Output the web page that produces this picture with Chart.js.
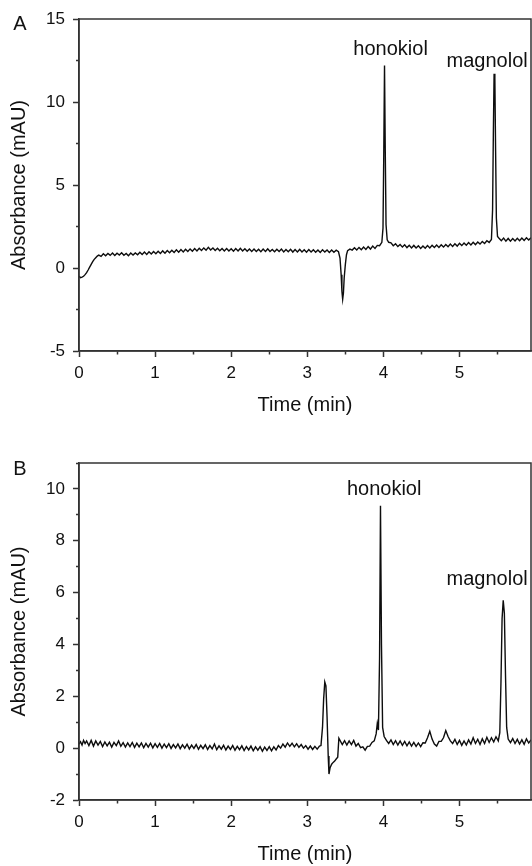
<!DOCTYPE html>
<html lang="en">
<head>
<meta charset="UTF-8">
<title>Chromatograms A / B</title>
<script src="https://cdn.jsdelivr.net/npm/chart.js@4.4.0/dist/chart.umd.min.js"></script>
<style>
  body { margin: 0; background: #fff; }
  canvas { display: block; }
</style>
</head>
<body>
<canvas id="chartA" width="532" height="417"></canvas>
<canvas id="chartB" width="532" height="449"></canvas>
<script>
// ---- panel A trace (time in min, absorbance in mAU) ----
const timeA = [0.00,0.02,0.04,0.06,0.08,0.10,0.12,0.14,0.16,0.18,0.20,0.22,0.24,0.26,0.29,0.32,0.35,0.38,0.41,0.44,
  0.47,0.50,0.53,0.56,0.59,0.62,0.65,0.68,0.71,0.74,0.77,0.80,0.83,0.86,0.89,0.92,0.95,0.98,1.01,1.04,
  1.07,1.10,1.13,1.16,1.19,1.22,1.25,1.28,1.31,1.34,1.37,1.40,1.43,1.46,1.49,1.52,1.55,1.58,1.61,1.64,
  1.67,1.70,1.73,1.76,1.79,1.82,1.85,1.88,1.91,1.94,1.97,2.00,2.03,2.06,2.09,2.12,2.15,2.18,2.21,2.24,
  2.27,2.30,2.33,2.36,2.39,2.42,2.45,2.48,2.51,2.54,2.57,2.60,2.63,2.66,2.69,2.72,2.75,2.78,2.81,2.84,
  2.87,2.90,2.93,2.96,2.99,3.02,3.05,3.08,3.11,3.14,3.17,3.20,3.23,3.26,3.29,3.32,3.35,3.38,3.41,3.43,
  3.445,3.455,3.465,3.475,3.485,3.50,3.515,3.53,3.56,3.59,3.62,3.65,3.68,3.71,3.74,3.77,3.80,3.83,3.86,3.89,
  3.92,3.95,3.98,3.995,4.005,4.015,4.025,4.035,4.05,4.07,4.10,4.13,4.16,4.19,4.22,4.25,4.28,4.31,4.34,4.37,
  4.40,4.43,4.46,4.49,4.52,4.55,4.58,4.61,4.64,4.67,4.70,4.73,4.76,4.79,4.82,4.85,4.88,4.91,4.94,4.97,
  5.00,5.03,5.06,5.09,5.12,5.15,5.18,5.21,5.24,5.27,5.30,5.33,5.36,5.39,5.42,5.435,5.445,5.455,5.465,5.475,
  5.485,5.50,5.52,5.55,5.58,5.61,5.64,5.67,5.70,5.73,5.76,5.79,5.82,5.85,5.88,5.91,5.94];
const absA = [-0.50,-0.58,-0.55,-0.50,-0.40,-0.28,-0.12,0.05,0.22,0.38,0.52,0.62,0.72,0.78,0.70,0.86,0.74,0.88,0.76,0.90,
  0.75,0.89,0.78,0.92,0.77,0.88,0.74,0.90,0.78,0.91,0.80,0.95,0.81,0.96,0.82,0.98,0.84,0.99,0.86,1.01,
  0.87,1.03,0.89,1.05,0.92,1.07,0.93,1.10,0.95,1.11,0.97,1.13,0.99,1.15,1.01,1.17,1.03,1.19,1.05,1.21,
  1.07,1.25,1.09,1.21,1.06,1.19,1.04,1.18,1.03,1.17,1.02,1.16,1.01,1.17,1.03,1.18,1.02,1.16,1.01,1.15,
  1.00,1.14,0.99,1.13,0.98,1.14,1.00,1.15,0.99,1.12,0.98,1.13,0.99,1.14,0.97,1.12,0.98,1.13,0.96,1.11,
  0.97,1.12,0.96,1.10,0.95,1.11,0.96,1.10,0.95,1.09,0.94,1.10,0.96,1.09,0.94,1.08,0.95,1.07,0.98,0.60,
  -0.40,-1.40,-1.88,-1.50,-0.60,0.20,0.80,1.05,1.14,1.08,1.22,1.08,1.24,1.10,1.26,1.12,1.29,1.14,1.32,1.18,
  1.36,1.34,1.55,2.40,6.80,12.20,7.00,2.60,1.70,1.55,1.52,1.34,1.46,1.29,1.42,1.26,1.40,1.23,1.37,1.21,
  1.36,1.20,1.34,1.18,1.33,1.19,1.35,1.21,1.37,1.23,1.38,1.24,1.40,1.26,1.42,1.28,1.44,1.30,1.46,1.32,
  1.49,1.35,1.51,1.37,1.53,1.39,1.55,1.41,1.57,1.44,1.60,1.48,1.64,1.54,1.72,3.50,8.00,11.70,11.40,7.00,
  3.00,1.90,1.79,1.64,1.80,1.62,1.78,1.61,1.77,1.63,1.79,1.64,1.81,1.66,1.82,1.68,1.82];

// ---- panel B trace ----
const timeB = [0.00,0.02,0.04,0.06,0.08,0.10,0.13,0.16,0.19,0.22,0.25,0.28,0.31,0.34,0.37,0.40,0.43,0.46,0.49,0.52,
  0.55,0.58,0.61,0.64,0.67,0.70,0.73,0.76,0.79,0.82,0.85,0.88,0.91,0.94,0.97,1.00,1.03,1.06,1.09,1.12,
  1.15,1.18,1.21,1.24,1.27,1.30,1.33,1.36,1.39,1.42,1.45,1.48,1.51,1.54,1.57,1.60,1.63,1.66,1.69,1.72,
  1.75,1.78,1.81,1.84,1.87,1.90,1.93,1.96,1.99,2.02,2.05,2.08,2.11,2.14,2.17,2.20,2.23,2.26,2.29,2.32,
  2.35,2.38,2.41,2.44,2.47,2.50,2.53,2.56,2.59,2.62,2.65,2.68,2.71,2.74,2.77,2.80,2.83,2.86,2.89,2.92,
  2.95,2.98,3.01,3.04,3.07,3.10,3.13,3.16,3.18,3.20,3.215,3.23,3.245,3.26,3.275,3.285,3.30,3.32,3.34,3.36,
  3.38,3.40,3.415,3.43,3.46,3.49,3.52,3.55,3.58,3.61,3.64,3.67,3.70,3.73,3.76,3.79,3.82,3.85,3.88,3.905,
  3.92,3.935,3.95,3.962,3.975,3.99,4.01,4.04,4.07,4.10,4.13,4.16,4.19,4.22,4.25,4.28,4.31,4.34,4.37,4.40,
  4.43,4.46,4.49,4.52,4.55,4.58,4.61,4.64,4.67,4.70,4.73,4.76,4.79,4.82,4.85,4.88,4.91,4.94,4.97,5.00,
  5.03,5.06,5.09,5.12,5.15,5.18,5.21,5.24,5.27,5.30,5.33,5.36,5.39,5.42,5.45,5.48,5.51,5.53,5.545,5.56,
  5.575,5.59,5.605,5.62,5.64,5.67,5.70,5.73,5.76,5.79,5.82,5.85,5.88,5.91,5.94];
const absB = [0.15,0.25,0.12,0.30,0.18,0.28,0.10,0.30,0.08,0.28,0.12,0.26,0.06,0.24,0.09,0.23,0.04,0.22,0.10,0.28,
  0.07,0.21,0.04,0.20,0.06,0.22,0.03,0.19,0.05,0.20,0.02,0.18,0.04,0.19,0.01,0.17,0.03,0.18,0.00,0.16,
  0.02,0.17,-0.01,0.14,0.01,0.16,-0.02,0.13,0.00,0.15,-0.03,0.12,-0.01,0.14,-0.04,0.11,-0.02,0.13,-0.05,0.10,
  -0.03,0.16,-0.06,0.09,-0.04,0.11,-0.07,0.08,-0.05,0.10,-0.08,0.07,-0.06,0.09,-0.09,0.06,-0.07,0.08,-0.10,0.05,
  -0.08,0.06,-0.12,0.04,-0.09,0.06,-0.10,0.05,-0.07,0.10,0.00,0.16,0.04,0.20,0.07,0.19,0.05,0.17,0.03,0.14,
  0.00,0.10,-0.04,0.08,-0.05,0.07,-0.04,0.08,0.10,0.80,1.90,2.55,2.40,1.20,-0.30,-1.00,-0.75,-0.62,-0.55,-0.50,
  -0.42,-0.35,0.38,0.30,0.14,0.29,0.12,0.28,0.14,0.30,0.08,0.18,0.02,0.05,-0.08,0.07,0.08,0.22,0.28,0.55,
  0.95,0.70,3.50,9.35,4.00,0.80,0.45,0.30,0.18,0.32,0.14,0.29,0.12,0.28,0.11,0.26,0.09,0.24,0.08,0.22,
  0.07,0.20,0.06,0.21,0.20,0.40,0.65,0.35,0.16,0.08,0.26,0.26,0.40,0.68,0.45,0.28,0.18,0.34,0.14,0.30,
  0.11,0.28,0.12,0.32,0.16,0.40,0.18,0.34,0.14,0.36,0.18,0.42,0.22,0.40,0.24,0.44,0.28,0.60,2.50,5.00,
  5.70,5.20,2.80,0.80,0.35,0.21,0.37,0.18,0.34,0.16,0.32,0.15,0.36,0.20,0.32];

// ---- peak annotations (label anchor in data units) ----
const peakNames = ['honokiol', 'magnolol'];
const peakLabelTimeA = [4.095, 5.364];
const peakLabelAbsA = [12.83, 12.13];
const peakLabelTimeB = [4.01, 5.364];
const peakLabelAbsB = [9.77, 6.30];

const FONT = '"Liberation Sans", Arial, Helvetica, sans-serif';
const AXIS = '#333';

function toPoints(xs, ys) {
  return xs.map((x, i) => ({ x: x, y: ys[i] }));
}

// frame, panel letter and peak names
function decorPlugin(letter, letterY, labelTimes, labelAbs) {
  return {
    id: 'decor' + letter,
    afterDraw(chart) {
      const { ctx, chartArea: a, scales } = chart;
      ctx.save();
      ctx.strokeStyle = AXIS;
      ctx.lineWidth = 1.5;
      ctx.strokeRect(a.left, a.top, a.right - a.left, a.bottom - a.top);
      ctx.fillStyle = '#111';
      ctx.font = '20px ' + FONT;
      ctx.textAlign = 'center';
      ctx.textBaseline = 'alphabetic';
      ctx.fillText(letter, 20, letterY);
      peakNames.forEach((name, i) => {
        ctx.fillText(name, scales.x.getPixelForValue(labelTimes[i]), scales.y.getPixelForValue(labelAbs[i]));
      });
      ctx.restore();
    }
  };
}

function makeChart(id, letter, letterY, times, values, yMin, yMax, yStep, yMajor, topPad, labelTimes, labelAbs) {
  const isMajorY = v => Math.abs(v % yMajor) < 1e-9;
  const isMajorX = v => Math.abs(v - Math.round(v)) < 1e-9;
  return new Chart(document.getElementById(id), {
    type: 'line',
    data: {
      datasets: [{
        data: toPoints(times, values),
        borderColor: '#0d0d0d',
        borderWidth: 1.4,
        pointRadius: 0,
        tension: 0,
        fill: false
      }]
    },
    options: {
      responsive: false,
      animation: false,
      events: [],
      layout: { padding: { top: topPad, right: 1, left: 0, bottom: 0 } },
      plugins: { legend: { display: false }, tooltip: { enabled: false } },
      scales: {
        x: {
          type: 'linear',
          min: 0,
          max: 5.94,
          afterFit: s => { s.height = 66; },
          ticks: {
            stepSize: 0.5,
            includeBounds: false,
            autoSkip: false,
            maxRotation: 0,
            padding: 6,
            color: '#111',
            font: { family: FONT, size: 17 },
            callback: v => isMajorX(v) ? Math.round(v) : ''
          },
          grid: {
            drawOnChartArea: false,
            drawTicks: true,
            tickLength: 6,
            tickColor: AXIS,
            tickWidth: 1.5,
            tickBorderDash: c => (c.tick && !isMajorX(c.tick.value)) ? [3, 6] : [],
            tickBorderDashOffset: 0
          },
          border: { display: true, color: AXIS, width: 1.5 },
          title: {
            display: true,
            text: 'Time (min)',
            color: '#111',
            font: { family: FONT, size: 20 },
            padding: { top: 0, bottom: 0 }
          }
        },
        y: {
          type: 'linear',
          min: yMin,
          max: yMax,
          afterFit: s => { s.width = 79; },
          ticks: {
            stepSize: yStep,
            autoSkip: false,
            padding: 8,
            color: '#111',
            font: { family: FONT, size: 17 },
            callback: v => isMajorY(v) ? v : ''
          },
          grid: {
            drawOnChartArea: false,
            drawTicks: true,
            tickLength: 6,
            tickColor: AXIS,
            tickWidth: 1.5,
            tickBorderDash: c => (c.tick && !isMajorY(c.tick.value)) ? [3, 3] : [],
            tickBorderDashOffset: c => (c.tick && !isMajorY(c.tick.value)) ? 3 : 0
          },
          border: { display: true, color: AXIS, width: 1.5 },
          title: {
            display: true,
            text: 'Absorbance (mAU)',
            color: '#111',
            font: { family: FONT, size: 20 },
            padding: { top: 7.5, bottom: 0 }
          }
        }
      }
    },
    plugins: [decorPlugin(letter, letterY, labelTimes, labelAbs)]
  });
}

makeChart('chartA', 'A', 30, timeA, absA, -5, 15, 2.5, 5, 19, peakLabelTimeA, peakLabelAbsA);
makeChart('chartB', 'B', 57.5, timeB, absB, -2, 11, 1, 2, 46, peakLabelTimeB, peakLabelAbsB);
</script>
</body>
</html>
